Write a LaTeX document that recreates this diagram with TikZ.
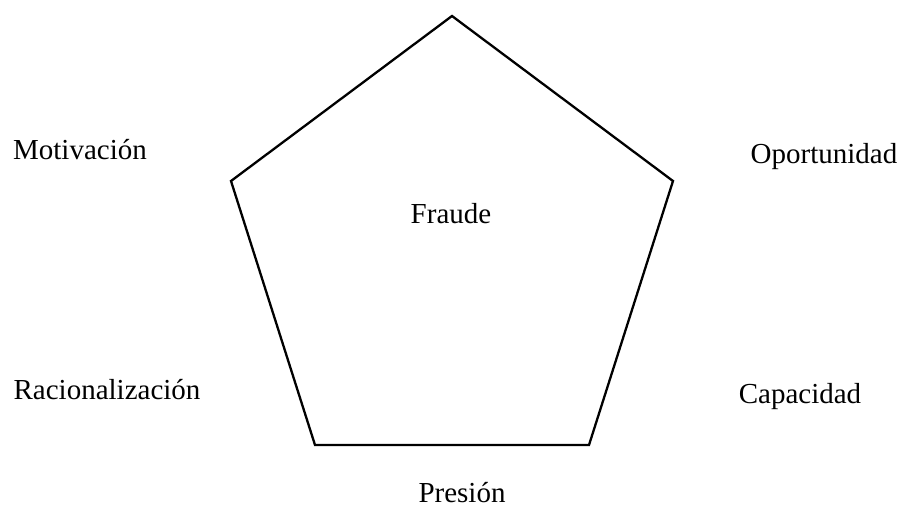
\documentclass[tikz,border=0pt]{standalone}
\usepackage{fontspec}
\setmainfont{Liberation Serif}
\usepackage{tikz}

\begin{document}
\begin{tikzpicture}[x=1pt, y=-1pt, line width=2.3pt, line join=miter]
    \tikzset{lbl/.style={anchor=base, inner sep=0pt, font=\fontsize{29}{34}\selectfont}}
    \useasboundingbox (0,0) rectangle (903,508);

    \coordinate (top) at (452,16);
    \coordinate (right) at (673,181);
    \coordinate (botr) at (589,445);
    \coordinate (botl) at (315,445);
    \coordinate (left) at (231,181);

    \draw (top) -- (right) -- (botr) -- (botl) -- (left) -- cycle;

    \node (fraude) [lbl] at (451,223) {Fraude};
    \node (motiv) [lbl] at (80,160) {Motivación};
    \node (oport) [lbl] at (824,164) {Oportunidad};
    \node (racio) [lbl] at (107,399) {Racionalización};
    \node (capac) [lbl] at (800,403) {Capacidad};
    \node (presion) [lbl] at (462,502) {Presión};
\end{tikzpicture}
\end{document}
